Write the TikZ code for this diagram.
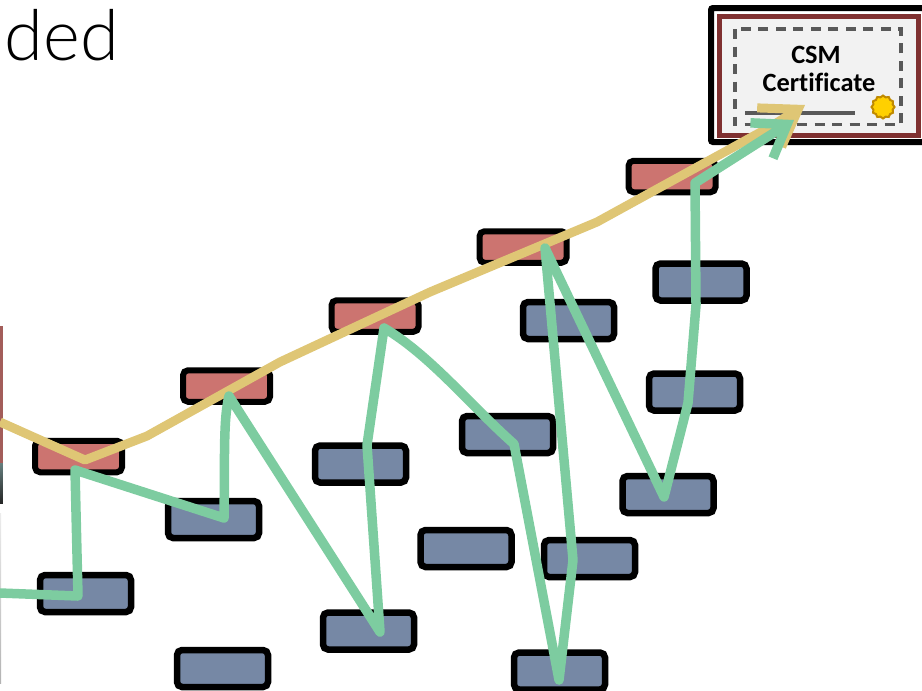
\documentclass[tikz,border=0pt]{standalone}
\usepackage{fontspec}
\setmainfont[Ligatures=NoCommon]{Carlito}
\newfontfamily\lightfont{Lato Light}
\usepackage{xcolor}
\usetikzlibrary{arrows.meta,shapes.geometric}
\definecolor{stepblue}{HTML}{7688A5}
\definecolor{stepred}{HTML}{CC7470}
\definecolor{pathgreen}{HTML}{7DCCA0}
\definecolor{pathyellow}{HTML}{DFC675}
\definecolor{framered}{HTML}{7F3030}
\definecolor{sealgold}{HTML}{FFD000}
\definecolor{sealedge}{HTML}{C08A00}
\tikzset{
  bluebox/.style={draw=black,line width=.065cm,rounded corners=.05cm,fill=stepblue,inner sep=0pt,minimum width=.91cm,minimum height=.37cm},
  redbox/.style={draw=black,line width=.06cm,rounded corners=.05cm,fill=stepred,inner sep=0pt,minimum width=.87cm,minimum height=.315cm},
  greenline/.style={draw=pathgreen,line width=.095cm,line join=round,line cap=round},
  yellowline/.style={draw=pathyellow,line width=.09cm,line join=round}
}
\begin{document}
\begin{tikzpicture}
\useasboundingbox (0,0) rectangle (9.22,-6.90);
\clip (0,0) rectangle (9.22,-6.90);
% cut off pieces at the left edge
\fill[stepred!80!black] (0,-3.26) rectangle (.03,-4.63);
\shade[top color=gray!80!teal,bottom color=black!85] (0,-4.63) rectangle (.03,-5.03);
\shade[top color=gray!15,bottom color=gray!60] (0,-5.13) rectangle (.012,-6.83);
\node[anchor=base west,inner sep=0pt,font=\lightfont\fontsize{20pt}{24pt}\selectfont] (title) at (.04,-.6){ded};
% certificate
\draw[line width=.06cm,rounded corners=.02cm] (7.11,-.08) rectangle (9.4,-1.42);
\draw[draw=framered,line width=.05cm,fill=black!5] (7.19,-.16) rectangle (9.18,-1.35);
\draw[black!65,line width=.035cm,dash pattern=on .1cm off .075cm] (7.35,-.29) rectangle (9.01,-1.245);
\draw[black!65,line width=.035cm] (7.45,-1.13) -- (8.55,-1.13);
\node[star,star points=12,star point ratio=1.15,draw=sealedge,line width=.02cm,fill=sealgold,inner sep=0pt,minimum size=.23cm] (seal) at (8.83,-1.07){};
\node[font=\fontsize{7.5pt}{8pt}\selectfont\bfseries] (csm) at (8.16,-.55){CSM};
\node[font=\fontsize{7.5pt}{8pt}\selectfont\bfseries] (cert) at (8.19,-.82){Certificate};
% steps
\node[bluebox] (b1) at (.855,-5.935){};
\node[bluebox] (b2) at (2.135,-5.195){};
\node[bluebox] (b3) at (2.225,-6.685){};
\node[bluebox] (b4) at (3.605,-4.64){};
\node[bluebox] (b5) at (3.685,-6.31){};
\node[bluebox] (b6) at (4.66,-5.485){};
\node[bluebox] (b7) at (5.075,-4.345){};
\node[bluebox] (b8) at (5.895,-5.585){};
\node[bluebox] (b9) at (5.595,-6.71){};
\node[bluebox] (b10) at (5.685,-3.205){};
\node[bluebox] (b11) at (6.68,-4.945){};
\node[bluebox] (b12) at (6.945,-3.92){};
\node[bluebox] (b13) at (7.01,-2.82){};
\node[redbox] (r1) at (.785,-4.565){};
\node[redbox] (r2) at (2.265,-3.86){};
\node[redbox] (r3) at (3.75,-3.16){};
\node[redbox] (r4) at (5.23,-2.47){};
\node[redbox] (r5) at (6.72,-1.765){};
% yellow path
\coordinate (y0) at (0,-4.22);
\coordinate (y1) at (.85,-4.6);
\coordinate (y2) at (1.47,-4.36);
\coordinate (y3) at (2.8,-3.62);
\coordinate (y4) at (4.3,-2.92);
\coordinate (y5) at (5.97,-2.22);
\coordinate (y6) at (7.7,-1.27);
\coordinate (y7) at (8.05,-1.05);
\draw[yellowline,-{Straight Barb[length=.34cm,width=.46cm]}] (y0) -- (y1) -- (y2) -- (y3) -- (y4) -- (y5) -- (y6) -- (y7);
% green path
\coordinate (g0) at (0,-5.93);
\coordinate (g1) at (.78,-5.96);
\coordinate (g2) at (.75,-4.7);
\coordinate (g3) at (2.24,-5.18);
\coordinate (g4) at (2.29,-3.96);
\coordinate (g5) at (3.8,-6.32);
\coordinate (g6) at (3.67,-4.45);
\coordinate (g7) at (3.84,-3.28);
\coordinate (g8) at (5.14,-4.44);
\coordinate (g9) at (5.59,-6.8);
\coordinate (g10) at (5.73,-5.6);
\coordinate (g11) at (5.45,-2.48);
\coordinate (g12) at (6.64,-4.97);
\coordinate (g13) at (6.88,-4.03);
\coordinate (g14) at (6.96,-3.05);
\coordinate (g15) at (6.95,-1.83);
\coordinate (g16) at (7.94,-1.2);
\draw[greenline,-{Straight Barb[length=.3cm,width=.42cm]}] (g0) -- (g1) -- (g2) -- (g3) .. controls (2.25,-4.6) and (2.23,-4.2) .. (g4) -- (g5) -- (g6) -- (g7) .. controls (4.3,-3.55) and (4.7,-4.05) .. (g8) -- (g9) -- (g10) -- (g11) -- (g12) -- (g13) -- (g14) -- (g15) -- (g16);
\end{tikzpicture}
\end{document}
